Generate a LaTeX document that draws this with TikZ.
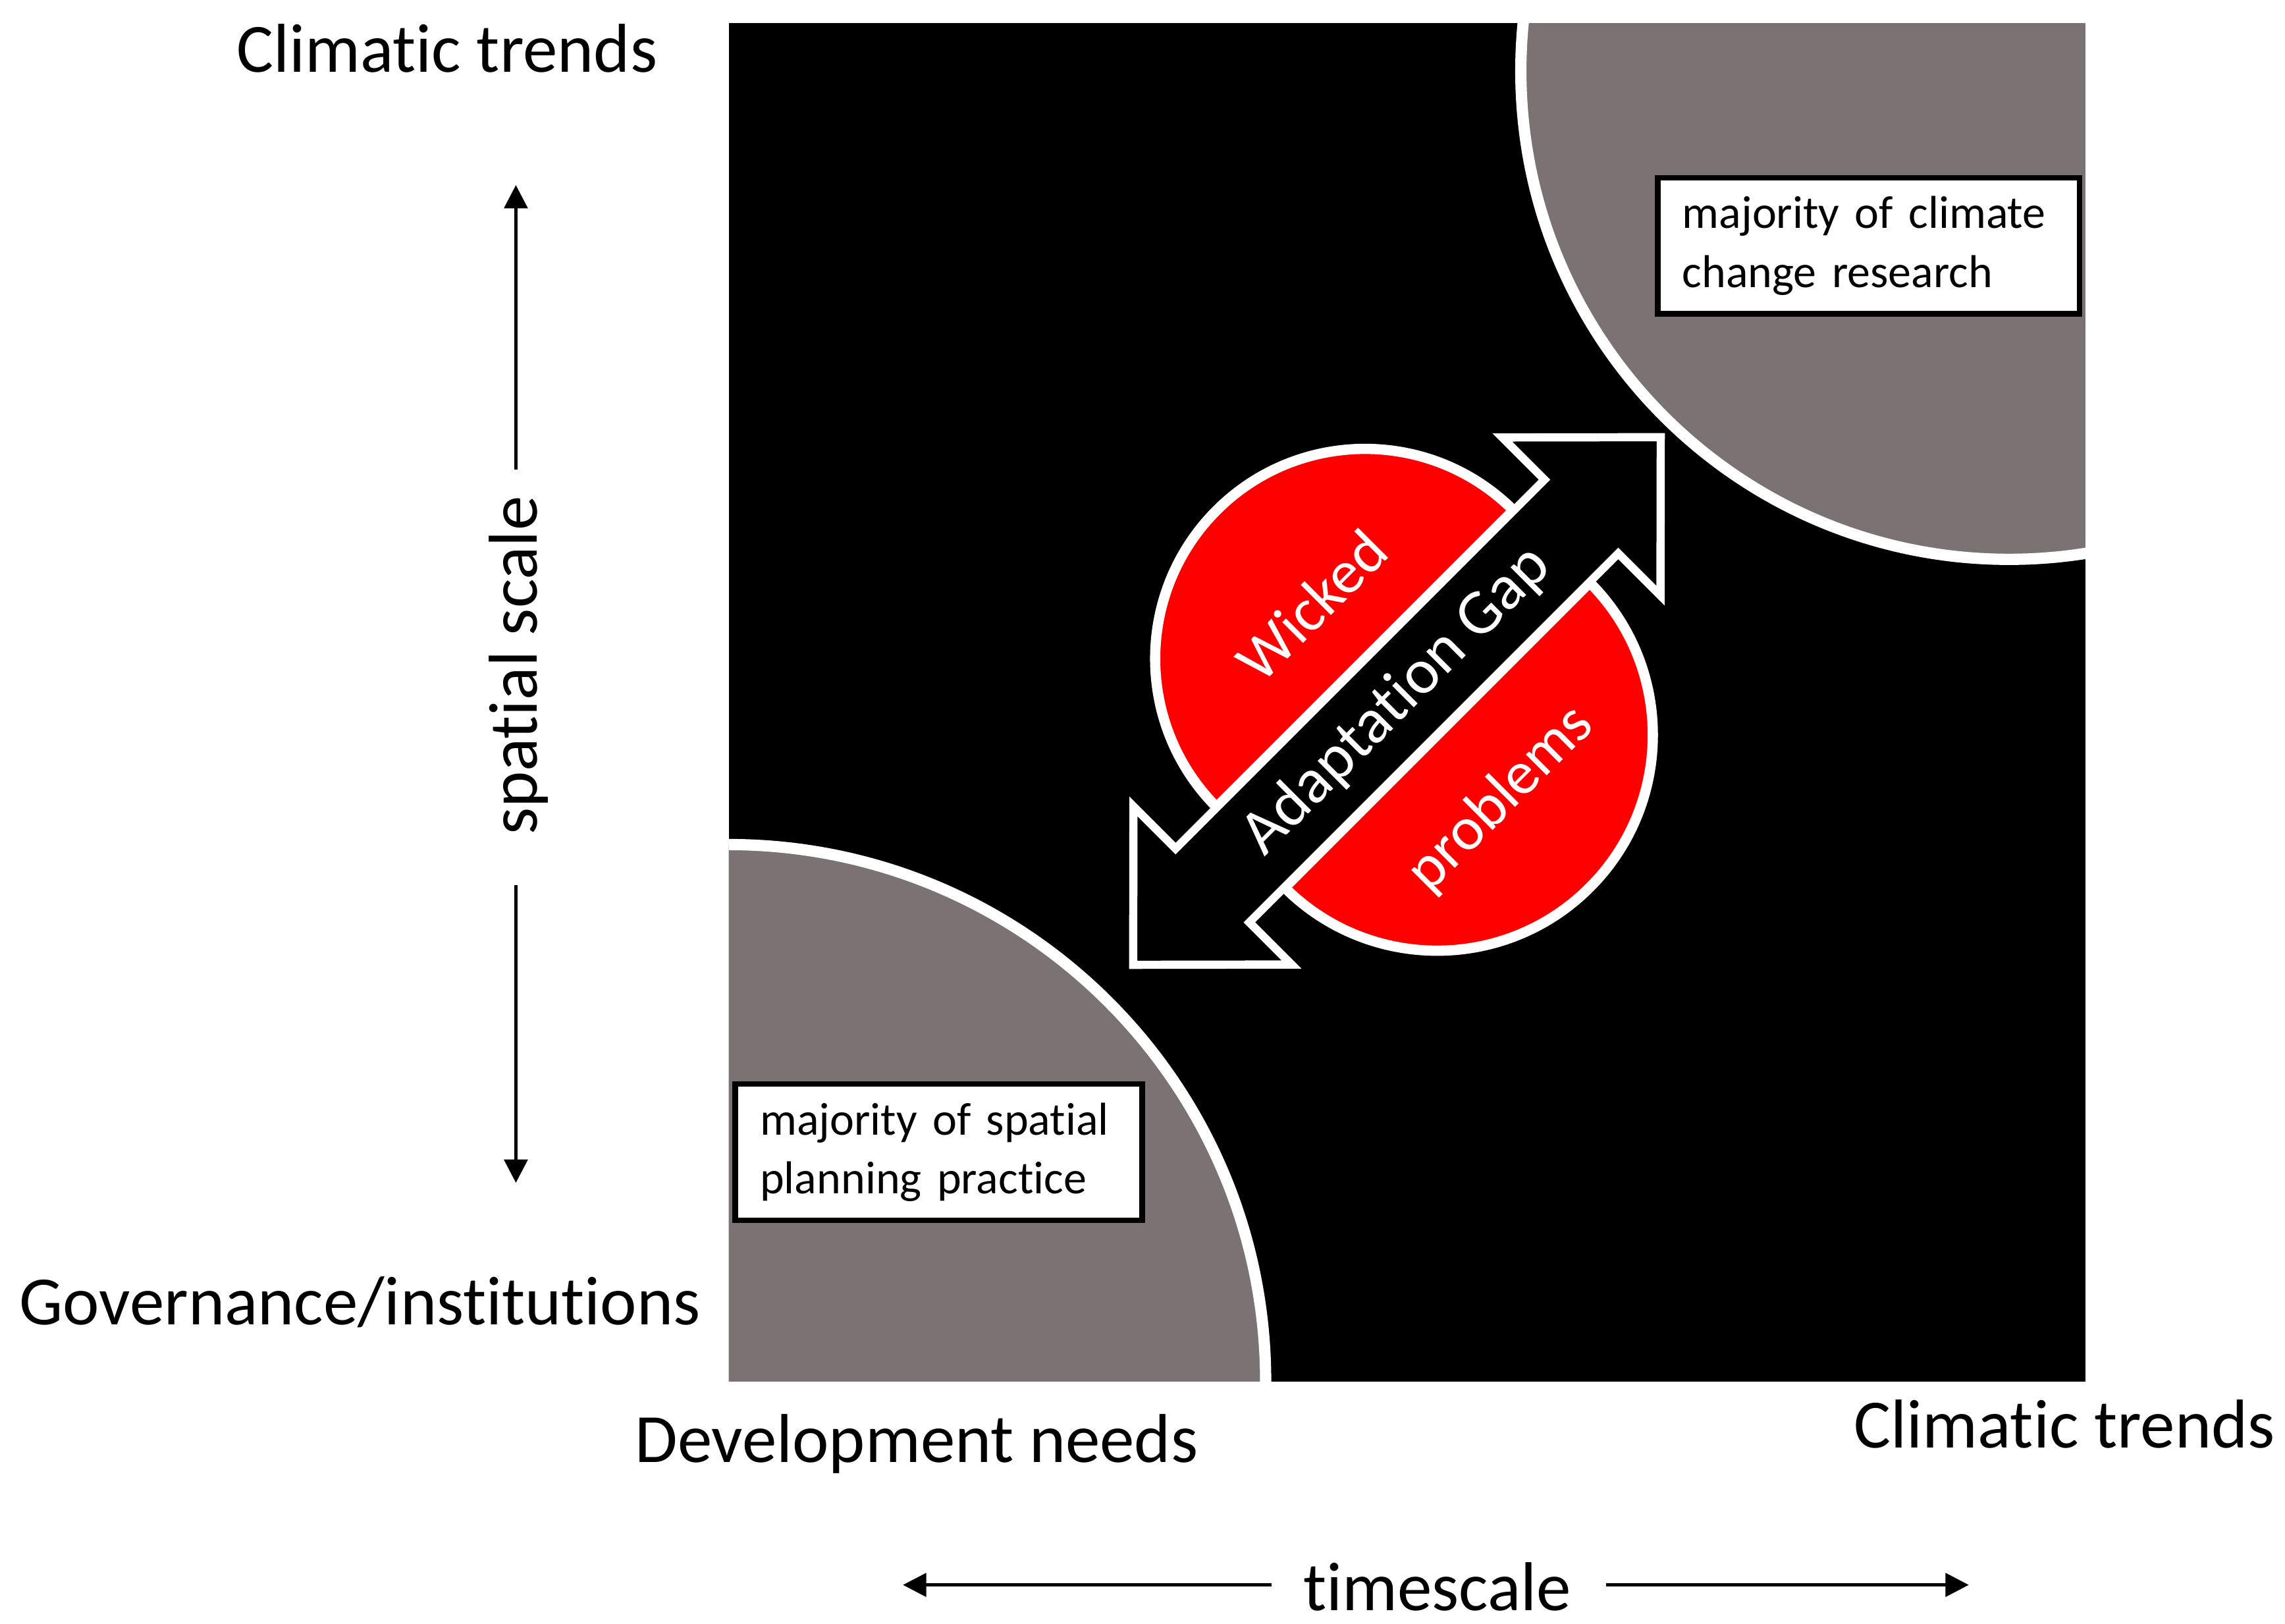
\documentclass[tikz,border=0pt]{standalone}
\usepackage{fontspec}
\setmainfont{Carlito}[Ligatures=NoCommon]
\usepackage{tikz}
\usetikzlibrary{arrows.meta,positioning,calc}

\definecolor{zonegrey}{RGB}{123,115,115}
\definecolor{wickedred}{RGB}{255,0,0}

\begin{document}
\begin{tikzpicture}[
    axislabel/.style={font=\fontsize{13.5}{16}\selectfont, inner sep=0pt},
    notebox/.style={rectangle, draw=black, line width=1.1pt, fill=white, align=left, inner xsep=0.17cm, font=\fontsize{9}{11.5}\selectfont, minimum height=0.935cm},
    zone/.style={fill=zonegrey, draw=white, line width=2.2pt},
    halfdisc/.style={fill=wickedred, draw=white, line width=2pt},
    gaptext/.style={text=white, rotate=45, inner sep=0pt},
    scalearrow/.style={line width=0.65pt, -{Triangle[length=1.6mm, width=1.6mm]}}
]
    \useasboundingbox (0,0) rectangle (15.68,11.14);

    % Black field with the two grey zones
    \fill[black] (5.0,1.66) rectangle (14.31,10.98);
    \begin{scope}
        \clip (5.0,1.66) rectangle (14.31,10.98);
        \draw[zone] (5.0,1.66) circle[radius=3.685];
        \draw[zone] (13.786,10.652) circle[radius=3.35];
    \end{scope}

    % Text boxes
    \node[notebox, text width=2.555cm] (climbox) at (12.822,9.453) {majority of climate\\change research};
    \node[notebox, text width=2.453cm] (planbox) at (6.442,3.234) {majority of spatial\\planning practice};

    % Gap arrow and wicked problems
    \begin{scope}[shift={(9.586,6.33)}, rotate=45]
        \draw[halfdisc] (1.49,0.36) arc[start angle=0, end angle=180, radius=1.44] -- cycle;
        \draw[halfdisc] (-1.45,-0.36) arc[start angle=180, end angle=360, radius=1.48] -- cycle;
        \draw[white, fill=black, line width=1.6pt] (2.56,0) -- (1.79,0.767) -- (1.79,0.358) -- (-1.79,0.358) -- (-1.79,0.767) -- (-2.56,0)
            -- (-1.79,-0.767) -- (-1.79,-0.358) -- (1.79,-0.358) -- (1.79,-0.767) -- cycle;
        \node[gaptext, font=\fontsize{12.5}{15}\selectfont] (gaplabel) at (0,0) {Adaptation Gap};
        \node[gaptext, font=\fontsize{12}{14}\selectfont] (wicked) at (0.05,0.88) {Wicked};
        \node[gaptext, font=\fontsize{12}{14}\selectfont] (problems) at (0.03,-0.98) {problems};
    \end{scope}

    % Axis labels
    \node[axislabel, anchor=base west] (climtop) at (1.617,10.643) {Climatic trends};
    \node[axislabel, anchor=base west] (govlabel) at (0.127,2.05) {Governance/institutions};
    \node[axislabel, anchor=base west] (devlabel) at (4.351,1.108) {Development needs};
    \node[axislabel, anchor=base west] (climright) at (12.716,1.206) {Climatic trends};
    \node[axislabel, anchor=base] (timescale) at (9.863,0.091) {timescale};
    \node[axislabel, anchor=base, rotate=90] (spatial) at (3.683,6.573) {spatial scale};

    % Scale arrows
    \coordinate (sptop) at (3.54,9.87);
    \coordinate (spbot) at (3.54,3.024);
    \coordinate (tleft) at (6.196,0.265);
    \coordinate (tright) at (13.51,0.265);
    \draw[scalearrow, shorten <=0.177cm] (spatial.east -| sptop) -- (sptop);
    \draw[scalearrow, shorten <=0.337cm] (spatial.west -| spbot) -- (spbot);
    \draw[scalearrow, shorten <=0.21cm] (timescale.west |- tleft) -- (tleft);
    \draw[scalearrow, shorten <=0.23cm] (timescale.east |- tright) -- (tright);
\end{tikzpicture}
\end{document}
